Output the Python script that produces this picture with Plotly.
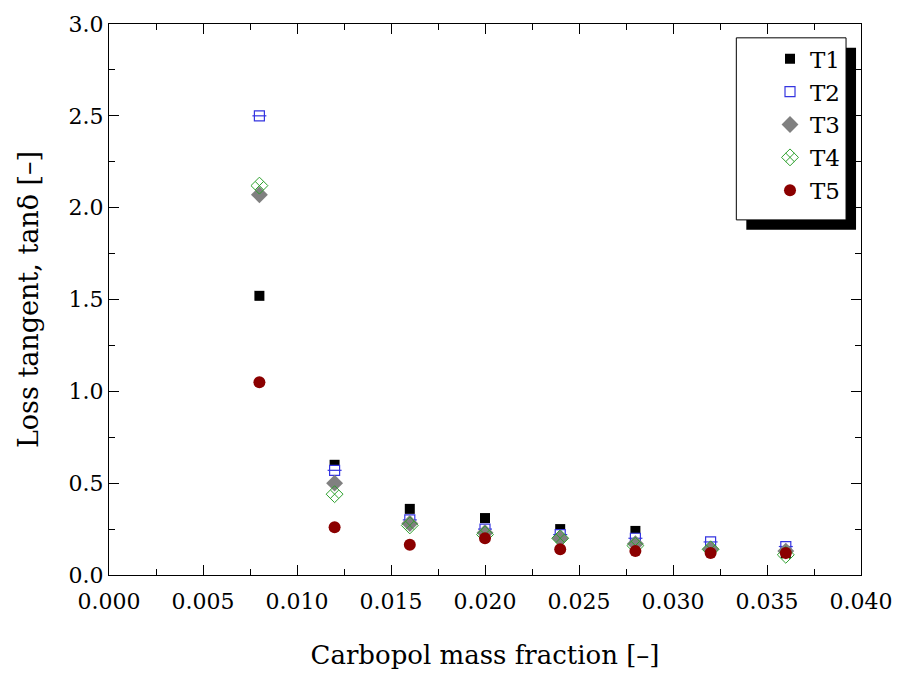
import plotly.graph_objects as go

x_vals = [0.008, 0.012, 0.016, 0.020, 0.024, 0.028, 0.032, 0.036]
t1 = [1.52, 0.60, 0.36, 0.31, 0.25, 0.24, 0.14, 0.12]
t2 = [2.50, 0.57, 0.30, 0.25, 0.22, 0.20, 0.18, 0.155]
t3 = [2.07, 0.50, 0.28, 0.23, 0.20, 0.17, 0.14, 0.13]
t4 = [2.12, 0.44, 0.27, 0.22, 0.20, 0.16, 0.14, 0.11]
t5 = [1.05, 0.26, 0.165, 0.20, 0.14, 0.13, 0.12, 0.12]
names = ["T1", "T2", "T3", "T4", "T5"]

FONT = "DejaVu Serif"
BLUE = "#3535e0"
GREEN = "#2ca02c"
fig = go.Figure()
fig.add_trace(go.Scatter(x=x_vals, y=t1, mode="markers", name=names[0],
                         marker=dict(symbol="square", size=10, color="black")))
fig.add_trace(go.Scatter(x=x_vals, y=t2, mode="markers", name=names[1], legendgroup="t2",
                         marker=dict(symbol="square", size=10, color="white",
                                     line=dict(color=BLUE, width=1.2))))
fig.add_trace(go.Scatter(x=x_vals, y=t2, mode="markers", name=names[1], legendgroup="t2",
                         showlegend=False, hoverinfo="skip",
                         marker=dict(symbol="line-ew", size=10, color=BLUE,
                                     line=dict(color=BLUE, width=1.2))))
fig.add_trace(go.Scatter(x=x_vals, y=t3, mode="markers", name=names[2],
                         marker=dict(symbol="diamond", size=13, color="#808080")))
fig.add_trace(go.Scatter(x=x_vals, y=t4, mode="markers", name=names[3],
                         marker=dict(symbol="diamond-x-open", size=13, color=GREEN,
                                     line=dict(color=GREEN, width=1))))
fig.add_trace(go.Scatter(x=x_vals, y=t5, mode="markers", name=names[4],
                         marker=dict(symbol="circle", size=12, color="#8b0000")))

axis_common = dict(showline=True, linecolor="black", linewidth=1, mirror="allticks",
                   ticks="inside", ticklen=10, tickcolor="black", tickwidth=1,
                   showgrid=False, zeroline=False,
                   tickfont=dict(family=FONT, size=22, color="black"))
fig.update_xaxes(range=[0, 0.040], dtick=0.005, tickformat=".3f", ticklabelstandoff=7,
                 minor=dict(dtick=0.0025, ticks="inside", ticklen=6, tickcolor="black"),
                 title=dict(text="Carbopol mass fraction [\u2013]",
                            font=dict(family=FONT, size=26, color="black"), standoff=32),
                 **axis_common)
fig.update_yaxes(range=[0, 3.0], dtick=0.5, tickformat=".1f",
                 minor=dict(dtick=0.25, ticks="inside", ticklen=6, tickcolor="black"),
                 title=dict(text="Loss tangent, tan\u03b4 [\u2013]",
                            font=dict(family=FONT, size=27, color="black"), standoff=22),
                 **axis_common)

# legend box with drop shadow
fig.add_shape(type="rect", xref="paper", yref="paper",
              x0=0.8475, x1=0.9934, y0=0.6266, y1=0.9569,
              fillcolor="black", line=dict(width=0), layer="above")
fig.add_shape(type="rect", xref="paper", yref="paper",
              x0=0.8342, x1=0.9801, y0=0.6445, y1=0.9749,
              fillcolor="white", line=dict(color="black", width=1), layer="above")

fig.update_layout(
    width=904, height=677,
    margin=dict(l=109, r=41, t=18, b=102),
    paper_bgcolor="white", plot_bgcolor="white",
    showlegend=True,
    legend=dict(x=0.879, y=0.976, xanchor="left", yanchor="top",
                bgcolor="rgba(0,0,0,0)", borderwidth=0,
                font=dict(family=FONT, size=23, color="black"),
                itemsizing="trace", tracegroupgap=0),
)
fig.write_html("out.html")
